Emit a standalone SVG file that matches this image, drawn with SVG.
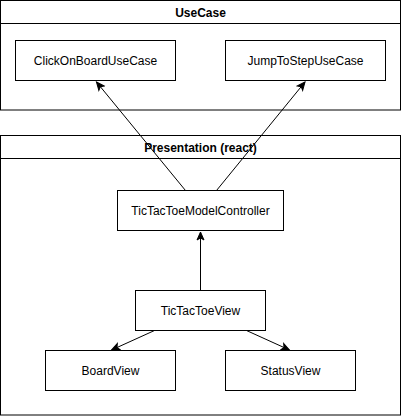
<svg xmlns="http://www.w3.org/2000/svg" width="401" height="416" viewBox="0 0 401 416">
<style>
.box{fill:#fff;stroke:#000;stroke-width:1}
.lbl{font-family:"Liberation Sans",Arial,sans-serif;font-size:12px;fill:#000;text-anchor:middle;dominant-baseline:central}
.hdr{font-weight:bold}
.edge{fill:none;stroke:#000;stroke-width:1}
</style>
<defs>
<marker id="arr" viewBox="-9 -5 10 10" refX="0" refY="0" markerWidth="10" markerHeight="10" markerUnits="userSpaceOnUse" orient="auto">
<path d="M0,0 L-8,-3.5 L-6,0 L-8,3.5 Z" fill="#000" stroke="#000" stroke-width="1"/>
</marker>
</defs>
<rect width="401" height="416" fill="#fff"/>
<g id="usecase">
<rect class="box" x="0.5" y="0.5" width="400" height="109.5"/>
<line class="edge" x1="0.5" y1="23.5" x2="400.5" y2="23.5"/>
<text class="lbl hdr" x="200.5" y="13">UseCase</text>
</g>
<g id="presentation">
<rect class="box" x="0.5" y="135.5" width="400" height="279.5"/>
<line class="edge" x1="0.5" y1="158.5" x2="400.5" y2="158.5"/>
<text class="lbl hdr" x="200.5" y="148">Presentation (react)</text>
</g>
<g id="clickOnBoard">
<rect class="box" x="15.5" y="40.5" width="160" height="40"/>
<text class="lbl" x="95.5" y="60.5">ClickOnBoardUseCase</text>
</g>
<g id="jumpToStep">
<rect class="box" x="225.5" y="40.5" width="160" height="40"/>
<text class="lbl" x="305.5" y="60.5">JumpToStepUseCase</text>
</g>
<g id="controller">
<rect class="box" x="117.5" y="190.5" width="166" height="40"/>
<text class="lbl" x="200.5" y="210.5">TicTacToeModelController</text>
</g>
<g id="view">
<rect class="box" x="135.5" y="290.5" width="130" height="40"/>
<text class="lbl" x="200.5" y="310.5">TicTacToeView</text>
</g>
<g id="boardView">
<rect class="box" x="45.5" y="350.5" width="130" height="40"/>
<text class="lbl" x="110.5" y="370.5">BoardView</text>
</g>
<g id="statusView">
<rect class="box" x="225.5" y="350.5" width="130" height="40"/>
<text class="lbl" x="290.5" y="370.5">StatusView</text>
</g>
<g id="connectors">
<line class="edge" x1="185.5" y1="190.5" x2="96.5" y2="82" marker-end="url(#arr)"/>
<line class="edge" x1="216.5" y1="190.5" x2="305" y2="82" marker-end="url(#arr)"/>
<line class="edge" x1="200.5" y1="290.5" x2="200.5" y2="232" marker-end="url(#arr)"/>
<line class="edge" x1="154.5" y1="330.5" x2="111.5" y2="350" marker-end="url(#arr)"/>
<line class="edge" x1="246.5" y1="330.5" x2="289.5" y2="350" marker-end="url(#arr)"/>
</g>
</svg>
